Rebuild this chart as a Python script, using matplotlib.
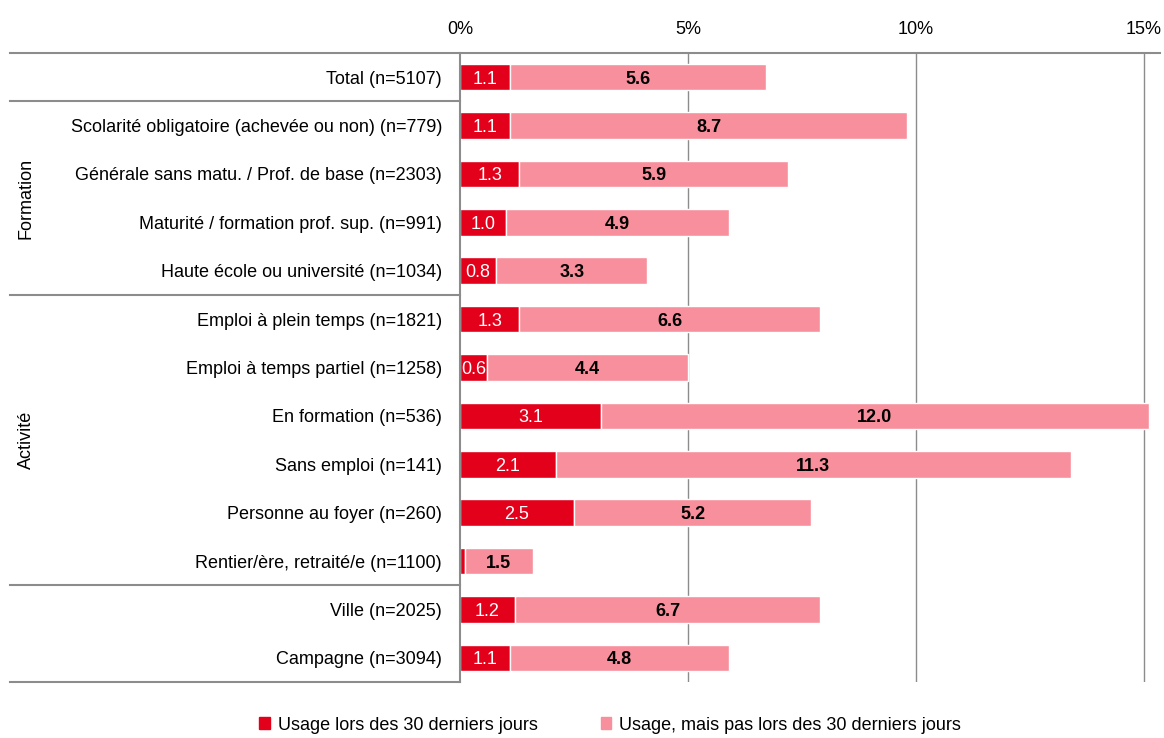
import matplotlib
matplotlib.use('Agg')
import matplotlib.pyplot as plt
from matplotlib import font_manager
from matplotlib.lines import Line2D
from matplotlib.patches import Patch

names = [f.name for f in font_manager.fontManager.ttflist]
if 'Liberation Sans Narrow' in names:
    plt.rcParams['font.family'] = ['Liberation Sans Narrow', 'DejaVu Sans']
else:
    plt.rcParams['font.family'] = ['Liberation Sans', 'DejaVu Sans']

categories = ['Total (n=5107)',
              'Scolarité obligatoire (achevée ou non) (n=779)',
              'Générale sans matu. / Prof. de base (n=2303)',
              'Maturité / formation prof. sup. (n=991)',
              'Haute école ou université (n=1034)',
              'Emploi à plein temps (n=1821)',
              'Emploi à temps partiel (n=1258)',
              'En formation (n=536)',
              'Sans emploi (n=141)',
              'Personne au foyer (n=260)',
              'Rentier/ère, retraité/e (n=1100)',
              'Ville (n=2025)',
              'Campagne (n=3094)']
usage_30 = [1.1, 1.1, 1.3, 1.0, 0.8, 1.3, 0.6, 3.1, 2.1, 2.5, 0.1, 1.2, 1.1]
usage_pas_30 = [5.6, 8.7, 5.9, 4.9, 3.3, 6.6, 4.4, 12.0, 11.3, 5.2, 1.5, 6.7, 4.8]
show_red_label = [True] * 10 + [False] + [True] * 2
groups = [('Formation', 1, 4), ('Activité', 5, 10)]
separators = [0.5, 4.5, 10.5]
xticks = [0, 5, 10, 15]

RED = '#E2001A'
PINK = '#F7909C'
GRID = '#8c8c8c'

fig = plt.figure(figsize=(11.64, 7.38), dpi=100)
ax = fig.add_axes([460/1164, 1-682/738, 700/1164, 629/738])

y = list(range(len(categories)))
ax.barh(y, usage_30, height=0.55, color=RED, edgecolor='white', linewidth=1)
ax.barh(y, usage_pas_30, left=usage_30, height=0.55, color=PINK,
        edgecolor='white', linewidth=1)

for i in y:
    if show_red_label[i]:
        ax.text(usage_30[i]/2, i, f'{usage_30[i]:.1f}', ha='center',
                va='center_baseline', color='white', fontsize=13)
    ax.text(usage_30[i] + usage_pas_30[i]/2, i, f'{usage_pas_30[i]:.1f}',
            ha='center', va='center_baseline', color='black', fontsize=13,
            fontweight='bold')

ax.set_xlim(0, 700/45.6)
ax.set_ylim(12.5, -0.5)
ax.set_xticks(xticks)
ax.set_xticklabels([f'{t}%' for t in xticks])
ax.xaxis.tick_top()
ax.tick_params(axis='x', length=0, pad=11, labelsize=13)
ax.set_yticks(y)
ax.set_yticklabels(categories)
ax.tick_params(axis='y', length=0, pad=13, labelsize=13)
for t in xticks[1:]:
    ax.axvline(t, color=GRID, linewidth=1, zorder=0)

for s in ['right', 'bottom', 'top']:
    ax.spines[s].set_visible(False)
ax.spines['left'].set_color(GRID)
ax.spines['left'].set_linewidth(1.5)

# horizontal lines extending into the label area
x0 = -450/45.6
ax.add_line(Line2D([x0, 700/45.6], [-0.5, -0.5], color=GRID, lw=1.5, clip_on=False))
ax.add_line(Line2D([x0, 0], [12.5, 12.5], color=GRID, lw=1.5, clip_on=False))
for s in separators:
    ax.add_line(Line2D([x0, 0], [s, s], color=GRID, lw=1.5, clip_on=False))

for name, a, b in groups:
    ax.text(-434/45.6, (a + b)/2, name, rotation=90, ha='center', va='center',
            fontsize=13)

handles = [Patch(color=RED), Patch(color=PINK)]
fig.legend(handles, ['Usage lors des 30 derniers jours',
                     'Usage, mais pas lors des 30 derniers jours'],
           loc='center', bbox_to_anchor=(610/1164, 1-725/738), ncol=2,
           frameon=False, fontsize=13, handlelength=0.6, handleheight=0.6,
           handletextpad=0.4, columnspacing=3.5)

fig.savefig('out.png', dpi=100)
